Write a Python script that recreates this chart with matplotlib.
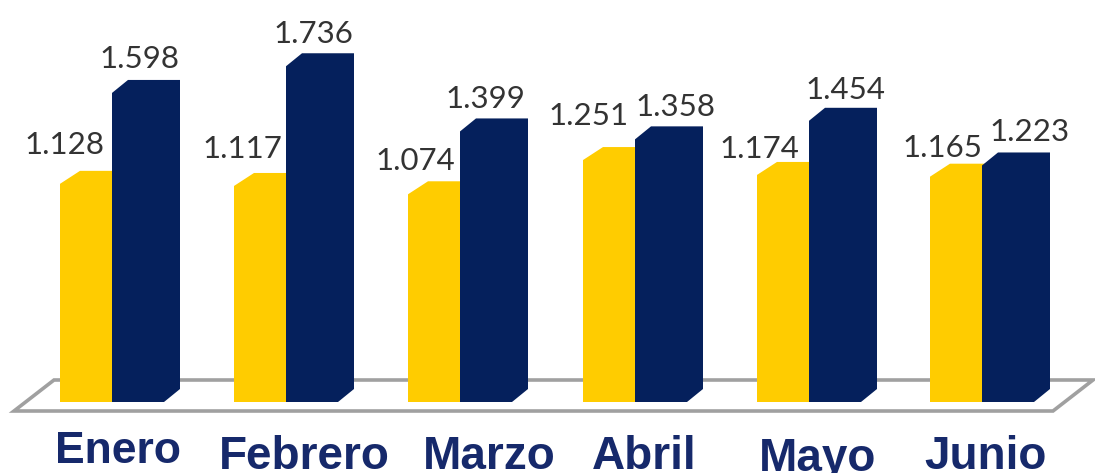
import numpy as np
import matplotlib
matplotlib.use('Agg')
import matplotlib.pyplot as plt
from matplotlib.patches import Polygon

#chart data
meses = ['Enero', 'Febrero', 'Marzo', 'Abril', 'Mayo', 'Junio']
serie_a = [1128, 1117, 1074, 1251, 1174, 1165]
serie_b = [1598, 1736, 1399, 1358, 1454, 1223]
etiq_a = ['1.128', '1.117', '1.074', '1.251', '1.174', '1.165']
etiq_b = ['1.598', '1.736', '1.399', '1.358', '1.454', '1.223']

#layout, in pixels of the 1095x473 picture
W, H = 1095, 473
base = 402            #pixel row of value 0
escala = 0.1934       #pixels per unit
izq = [60, 234, 408, 583, 757, 930]
ancho = 52
dx_a, dx_b, dy = 20, 16, 13
#label centres relative to the front top corner of each bar
pos_a = [(4, -39), (8, -37), (7, -33), (6, -44), (2, -26), (12, -29)]
pos_b = [(27, -34), (27, -32), (25, -32), (40, -32), (36, -31), (48, -33)]
mes_x = [118, 304, 489, 644, 818, 986]
mes_y = [463, 469, 469, 469, 471, 469]
mes_size = [32, 33, 33, 33, 33, 33]

amarillo = '#ffcc00'
azul = '#05205c'
texto = '#333333'
azul_txt = '#16296b'

fig = plt.figure(figsize=(W/100, H/100), dpi=100)
ax = fig.add_axes([0, 0, 1, 1])
ax.set_xlim(0, W)
ax.set_ylim(-(H-base)/escala, base/escala)
ax.axis('off')


def py(p):
    #pixel row to value
    return (base-p)/escala


#floor of the 3d chart
suelo = Polygon([(14, py(411)), (54, py(380)), (1093, py(380)), (1053, py(411))],
                closed=True, fill=False, edgecolor='#a0a0a0', linewidth=2.6, zorder=1)
ax.add_patch(suelo)

for i in range(len(meses)):
    x0 = izq[i]
    x1 = x0+ancho
    d = dy/escala
    #yellow bar, only the chamfer on the left shows
    ya = serie_a[i]
    ax.add_patch(Polygon([(x0, 0), (x0, ya), (x0+dx_a, ya+d), (x1+dx_a, ya+d), (x1, 0)],
                         closed=True, facecolor=amarillo, edgecolor='none', zorder=2))
    #navy bar with its side face
    yb = serie_b[i]
    ax.add_patch(Polygon([(x1, 0), (x1, yb), (x1+dx_b, yb+d), (x1+ancho+dx_b, yb+d),
                          (x1+ancho+dx_b, d), (x1+ancho, 0)],
                         closed=True, facecolor=azul, edgecolor='none', zorder=3))
    #value labels
    ax.text(x0+pos_a[i][0], ya-pos_a[i][1]/escala, etiq_a[i], ha='center', va='center',
            fontsize=22.5, family='Lato', color=texto, zorder=4)
    ax.text(x1+pos_b[i][0], yb-pos_b[i][1]/escala, etiq_b[i], ha='center', va='center',
            fontsize=22.5, family='Lato', color=texto, zorder=4)
    #month labels
    ax.text(mes_x[i], py(mes_y[i]), meses[i], ha='center', va='baseline',
            fontsize=mes_size[i], fontweight='bold', family='Liberation Sans', color=azul_txt)

plt.savefig('out.png', dpi=100)
